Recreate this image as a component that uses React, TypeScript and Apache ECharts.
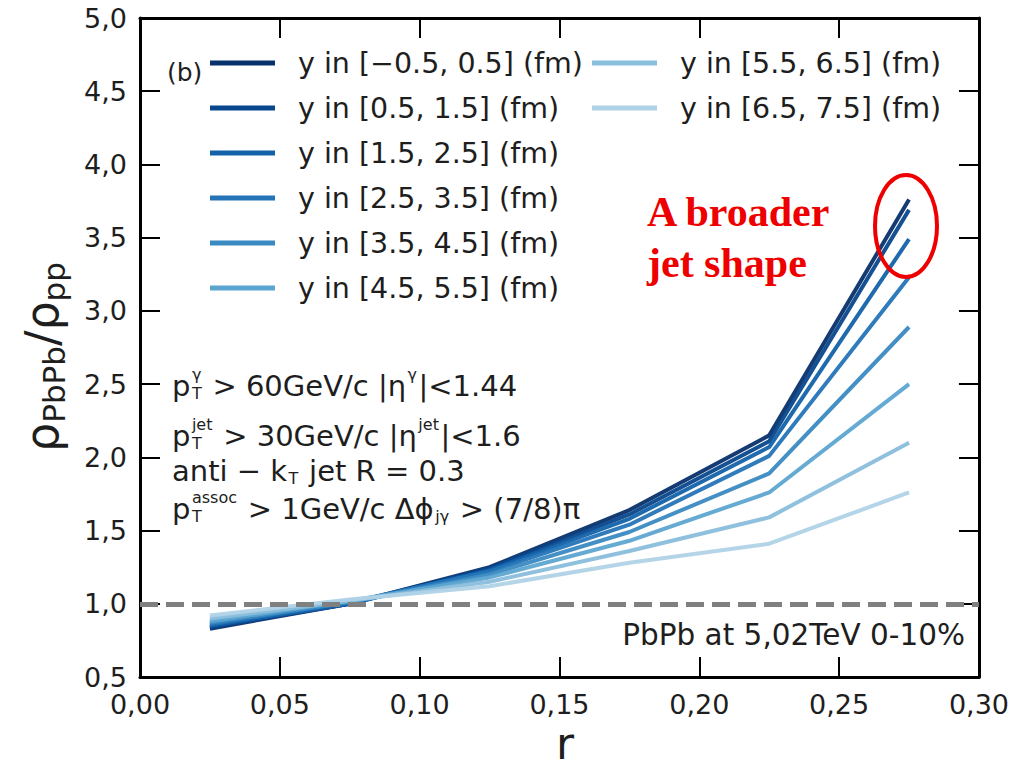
import React, { useEffect, useRef } from "react";
import * as echarts from "echarts";

// ---------- data ----------
const R_VALUES = [0.025, 0.075, 0.125, 0.175, 0.225, 0.275];
const SERIES_NAMES = [
  "y in [\u22120.5, 0.5] (fm)",
  "y in [0.5, 1.5] (fm)",
  "y in [1.5, 2.5] (fm)",
  "y in [2.5, 3.5] (fm)",
  "y in [3.5, 4.5] (fm)",
  "y in [4.5, 5.5] (fm)",
  "y in [5.5, 6.5] (fm)",
  "y in [6.5, 7.5] (fm)",
];
const Y_0 = [0.83, 1.0, 1.25, 1.64, 2.15, 3.76];
const Y_1 = [0.84, 1.0, 1.24, 1.61, 2.11, 3.69];
const Y_2 = [0.85, 1.0, 1.23, 1.58, 2.07, 3.49];
const Y_3 = [0.86, 1.01, 1.22, 1.54, 2.01, 3.23];
const Y_4 = [0.87, 1.01, 1.2, 1.49, 1.89, 2.89];
const Y_5 = [0.88, 1.02, 1.18, 1.43, 1.76, 2.5];
const Y_6 = [0.9, 1.02, 1.15, 1.36, 1.59, 2.1];
const Y_7 = [0.92, 1.03, 1.12, 1.28, 1.41, 1.76];
const SERIES_VALUES = [Y_0, Y_1, Y_2, Y_3, Y_4, Y_5, Y_6, Y_7];
const COLORS = ["#08306b", "#08478d", "#1361a9", "#2474b7", "#3a8ac2", "#5da5d1", "#89bedc", "#b0d2e7"];
const REFERENCE_LEVEL = 1.0;

const X_MIN = 0, X_MAX = 0.3, X_STEP = 0.05;
const Y_MIN = 0.5, Y_MAX = 5.0, Y_STEP = 0.5;

const FONT = "DejaVu Sans";
const TXT = "#1e1e1e";

type Seg = { k: "n" | "sup" | "sub" | "ss"; t: string; b?: string };

const ANNOT_LINES: Seg[][] = [
  [{ k: "n", t: "p" }, { k: "ss", t: "\u03b3", b: "T" }, { k: "n", t: " > 60GeV/c |\u03b7" }, { k: "sup", t: "\u03b3" }, { k: "n", t: "|<1.44" }],
  [{ k: "n", t: "p" }, { k: "ss", t: "jet", b: "T" }, { k: "n", t: " > 30GeV/c |\u03b7" }, { k: "sup", t: "jet" }, { k: "n", t: "|<1.6" }],
  [{ k: "n", t: "anti \u2212 k" }, { k: "sub", t: "T" }, { k: "n", t: " jet R = 0.3" }],
  [{ k: "n", t: "p" }, { k: "ss", t: "assoc", b: "T" }, { k: "n", t: " > 1GeV/c \u0394\u03d5" }, { k: "sub", t: "j\u03b3" }, { k: "n", t: " > (7/8)\u03c0" }],
];
const ANNOT_Y = [386, 436, 471, 509];

function layoutLine(x0: number, yc: number, segs: Seg[], size: number, small: number) {
  const cv = document.createElement("canvas");
  const ctx = cv.getContext("2d")!;
  const w = (t: string, s: number) => {
    ctx.font = `${s}px "${FONT}"`;
    return ctx.measureText(t).width;
  };
  const out: any[] = [];
  let cx = x0;
  const mk = (t: string, x: number, y: number, s: number) => ({
    type: "text",
    x,
    y,
    silent: true,
    style: { text: t, fontSize: s, fontFamily: FONT, fill: TXT, align: "left", verticalAlign: "middle", textAlign: "left", textVerticalAlign: "middle" },
  });
  const supDy = -size * 0.4;
  const subDy = size * 0.26;
  for (const sg of segs) {
    if (sg.k === "n") {
      out.push(mk(sg.t, cx, yc, size));
      cx += w(sg.t, size);
    } else if (sg.k === "sup") {
      out.push(mk(sg.t, cx + 1.5, yc + supDy, small));
      cx += w(sg.t, small) + 3;
    } else if (sg.k === "sub") {
      out.push(mk(sg.t, cx + 1.5, yc + subDy, small));
      cx += w(sg.t, small) + 3;
    } else {
      out.push(mk(sg.t, cx + 1.5, yc + supDy, small));
      out.push(mk(sg.b || "", cx + 1.5, yc + subDy, small));
      cx += Math.max(w(sg.t, small), w(sg.b || "", small)) + 3;
    }
  }
  return out;
}

export default function App() {
  const ref = useRef<HTMLDivElement>(null);
  useEffect(() => {
    if (!ref.current) return;
    const chart = echarts.init(ref.current, null, { renderer: "svg" });

    const series: any[] = SERIES_NAMES.map((name, i) => ({
      name,
      type: "line",
      data: R_VALUES.map((r, j) => [r, SERIES_VALUES[i][j]]),
      showSymbol: false,
      symbol: "none",
      lineStyle: { width: 4, color: COLORS[i], opacity: 0.95 },
      itemStyle: { color: COLORS[i] },
      z: 3,
    }));
    series.push({
      name: "ref",
      type: "line",
      data: [],
      z: 4,
      markLine: {
        silent: true,
        symbol: ["none", "none"],
        label: { show: false },
        lineStyle: { color: "#808080", width: 5, type: [18, 8], opacity: 1 },
        data: [{ yAxis: REFERENCE_LEVEL }],
      },
    });

    const axisCommon = {
      type: "value",
      axisLine: { show: true, onZero: false, lineStyle: { color: "#000", width: 3 } },
      axisTick: { show: true, inside: true, length: 20, lineStyle: { color: "#000", width: 2 } },
      splitLine: { show: false },
    };

    const labelStyle = { fontSize: 27, fontFamily: FONT, color: TXT };

    const graphics: any[] = [];
    ANNOT_LINES.forEach((segs, i) => {
      graphics.push(...layoutLine(172, ANNOT_Y[i], segs, 29, 16));
    });
    graphics.push({
      type: "text",
      x: 167,
      y: 72,
      silent: true,
      style: { text: "(b)", fontSize: 25, fontFamily: FONT, fill: TXT, align: "left", verticalAlign: "middle", textAlign: "left", textVerticalAlign: "middle" },
    });
    graphics.push({
      type: "text",
      x: 965,
      y: 635,
      silent: true,
      style: { text: "PbPb at 5,02TeV 0-10%", fontSize: 29.5, fontFamily: FONT, fill: TXT, align: "right", verticalAlign: "middle", textAlign: "right", textVerticalAlign: "middle" },
    });
    graphics.push({
      type: "text",
      x: 647,
      y: 212,
      silent: true,
      style: { text: "A broader", fontSize: 42, fontWeight: "bold", fontFamily: "Liberation Serif", fill: "#ee0000", align: "left", verticalAlign: "middle", textAlign: "left", textVerticalAlign: "middle" },
    });
    graphics.push({
      type: "text",
      x: 647,
      y: 263,
      silent: true,
      style: { text: "jet shape", fontSize: 42, fontWeight: "bold", fontFamily: "Liberation Serif", fill: "#ee0000", align: "left", verticalAlign: "middle", textAlign: "left", textVerticalAlign: "middle" },
    });
    graphics.push({
      type: "ellipse",
      silent: true,
      shape: { cx: 906, cy: 226, rx: 31, ry: 51 },
      style: { fill: "none", stroke: "#ee0000", lineWidth: 4 },
      z: 10,
    });
    graphics.push({
      type: "text",
      x: 42,
      y: 357,
      rotation: Math.PI / 2,
      silent: true,
      style: {
        text: "{m|\u03c1}{s|PbPb}{m|/\u03c1}{s|pp}",
        align: "center",
        verticalAlign: "middle",
        textAlign: "center",
        textVerticalAlign: "middle",
        fill: TXT,
        rich: {
          m: { fontSize: 46, fontFamily: FONT, fill: TXT, color: TXT, lineHeight: 54, verticalAlign: "middle" },
          s: { fontSize: 31, fontFamily: FONT, fill: TXT, color: TXT, lineHeight: 33, verticalAlign: "bottom" },
        },
      },
    });
    graphics.push({
      type: "text",
      x: 565,
      y: 763,
      silent: true,
      style: { text: "r", fontSize: 44, lineHeight: 40, fontFamily: FONT, fill: TXT, align: "center", verticalAlign: "bottom", textAlign: "center", textVerticalAlign: "bottom" },
    });

    const legendCommon = {
      orient: "vertical",
      top: 48,
      padding: 0,
      itemWidth: 65,
      itemHeight: 5,
      itemGap: 15,
      icon: "rect",
      selectedMode: false,
      textStyle: { fontSize: 28.5, fontFamily: FONT, color: TXT, lineHeight: 30, padding: [0, 0, 0, 18] },
    };

    chart.setOption({
      animation: false,
      backgroundColor: "#ffffff",
      grid: { left: 140, top: 18, right: 32, bottom: 91, containLabel: false },
      legend: [
        { ...legendCommon, left: 210, data: SERIES_NAMES.slice(0, 6) },
        { ...legendCommon, left: 592, data: SERIES_NAMES.slice(6) },
      ],
      xAxis: [
        {
          ...axisCommon,
          position: "bottom",
          min: X_MIN,
          max: X_MAX,
          interval: X_STEP,
          axisLabel: { ...labelStyle, margin: 14, formatter: (v: number) => v.toFixed(2).replace(".", ",") },
        },
        {
          ...axisCommon,
          position: "top",
          min: X_MIN,
          max: X_MAX,
          interval: X_STEP,
          axisLabel: { show: false },
        },
      ],
      yAxis: [
        {
          ...axisCommon,
          position: "left",
          min: Y_MIN,
          max: Y_MAX,
          interval: Y_STEP,
          axisLabel: { ...labelStyle, margin: 13, formatter: (v: number) => v.toFixed(1).replace(".", ",") },
        },
        {
          ...axisCommon,
          position: "right",
          min: Y_MIN,
          max: Y_MAX,
          interval: Y_STEP,
          axisLabel: { show: false },
        },
      ],
      series,
      graphic: graphics,
    });

    return () => chart.dispose();
  }, []);

  return <div ref={ref} style={{ position: "fixed", left: 0, top: 0, width: 1012, height: 768, background: "#fff" }} />;
}
